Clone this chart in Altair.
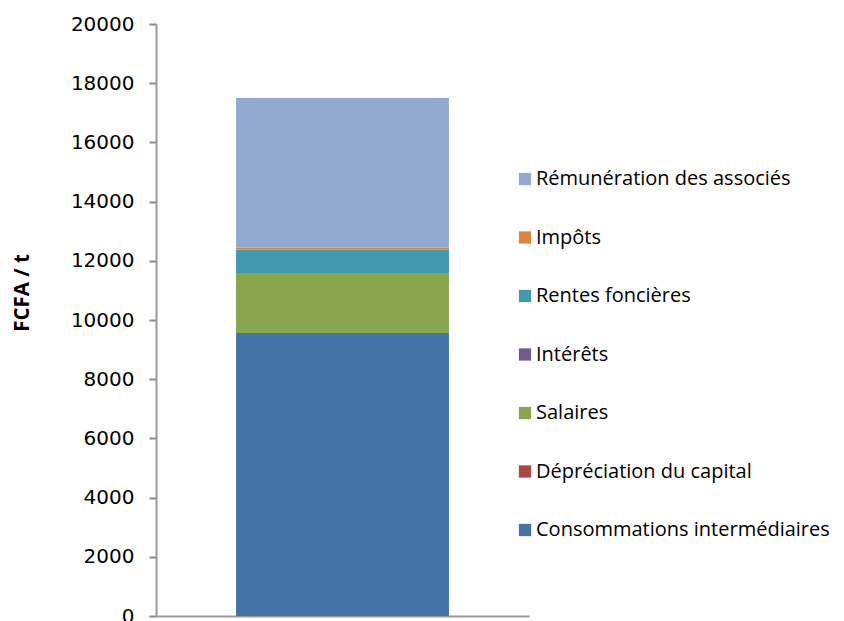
import altair as alt
import pandas as pd

categories = [
    "Consommations intermédiaires",
    "Dépréciation du capital",
    "Salaires",
    "Intérêts",
    "Rentes foncières",
    "Impôts",
    "Rémunération des associés",
]
values = [9560, 0, 2030, 0, 780, 70, 5060]
colors = ["#4572A7", "#AA4643", "#89A54E", "#71588F", "#4198AF", "#DB843D", "#93A9CF"]
bar_label = [""]
y_ticks = list(range(0, 20001, 2000))

df = pd.DataFrame({
    "cat": categories,
    "val": values,
    "order": list(range(len(categories))),
    "x": bar_label * len(categories),
})

legend_domain = categories[::-1]
legend_range = colors[::-1]

chart = alt.Chart(df).mark_bar().encode(
    x=alt.X("x:N", axis=alt.Axis(labels=False, ticks=False, title=None,
                                 domainColor="#999999", domainWidth=2),
            scale=alt.Scale(paddingInner=0, paddingOuter=0.376)),
    y=alt.Y("val:Q", stack="zero",
            scale=alt.Scale(domain=[0, 20000], nice=False),
            axis=alt.Axis(values=y_ticks, grid=False, format="d",
                          title="FCFA / t", titleFont="Open Sans", titleFontSize=20.5,
                          titleFontWeight="bold", titleColor="#000000",
                          titleAngle=270, titleX=-134, titleY=268.5,
                          titleAlign="center", titleBaseline="middle",
                          labelFont="DejaVu Sans", labelFontSize=20, labelColor="#000000",
                          labelPadding=15, tickSize=7, tickColor="#888888", tickWidth=2,
                          domainColor="#999999", domainWidth=2)),
    color=alt.Color("cat:N",
                    scale=alt.Scale(domain=legend_domain, range=legend_range),
                    legend=alt.Legend(title=None, orient="none", legendX=359, legendY=145,
                                      symbolType="square", symbolSize=150,
                                      symbolStrokeWidth=0, symbolOpacity=1,
                                      labelFont="Open Sans", labelFontSize=20,
                                      labelColor="#000000", labelLimit=400,
                                      rowPadding=38.5, labelOffset=1)),
    order=alt.Order("order:Q", sort="ascending"),
).properties(
    width=373,
    height=592,
    autosize=alt.AutoSizeParams(type="none"),
    padding={"left": 148, "top": 16, "right": 307, "bottom": 5},
).configure_view(stroke=None)

chart.save("out.html", embed_options={"renderer": "svg", "actions": False})
